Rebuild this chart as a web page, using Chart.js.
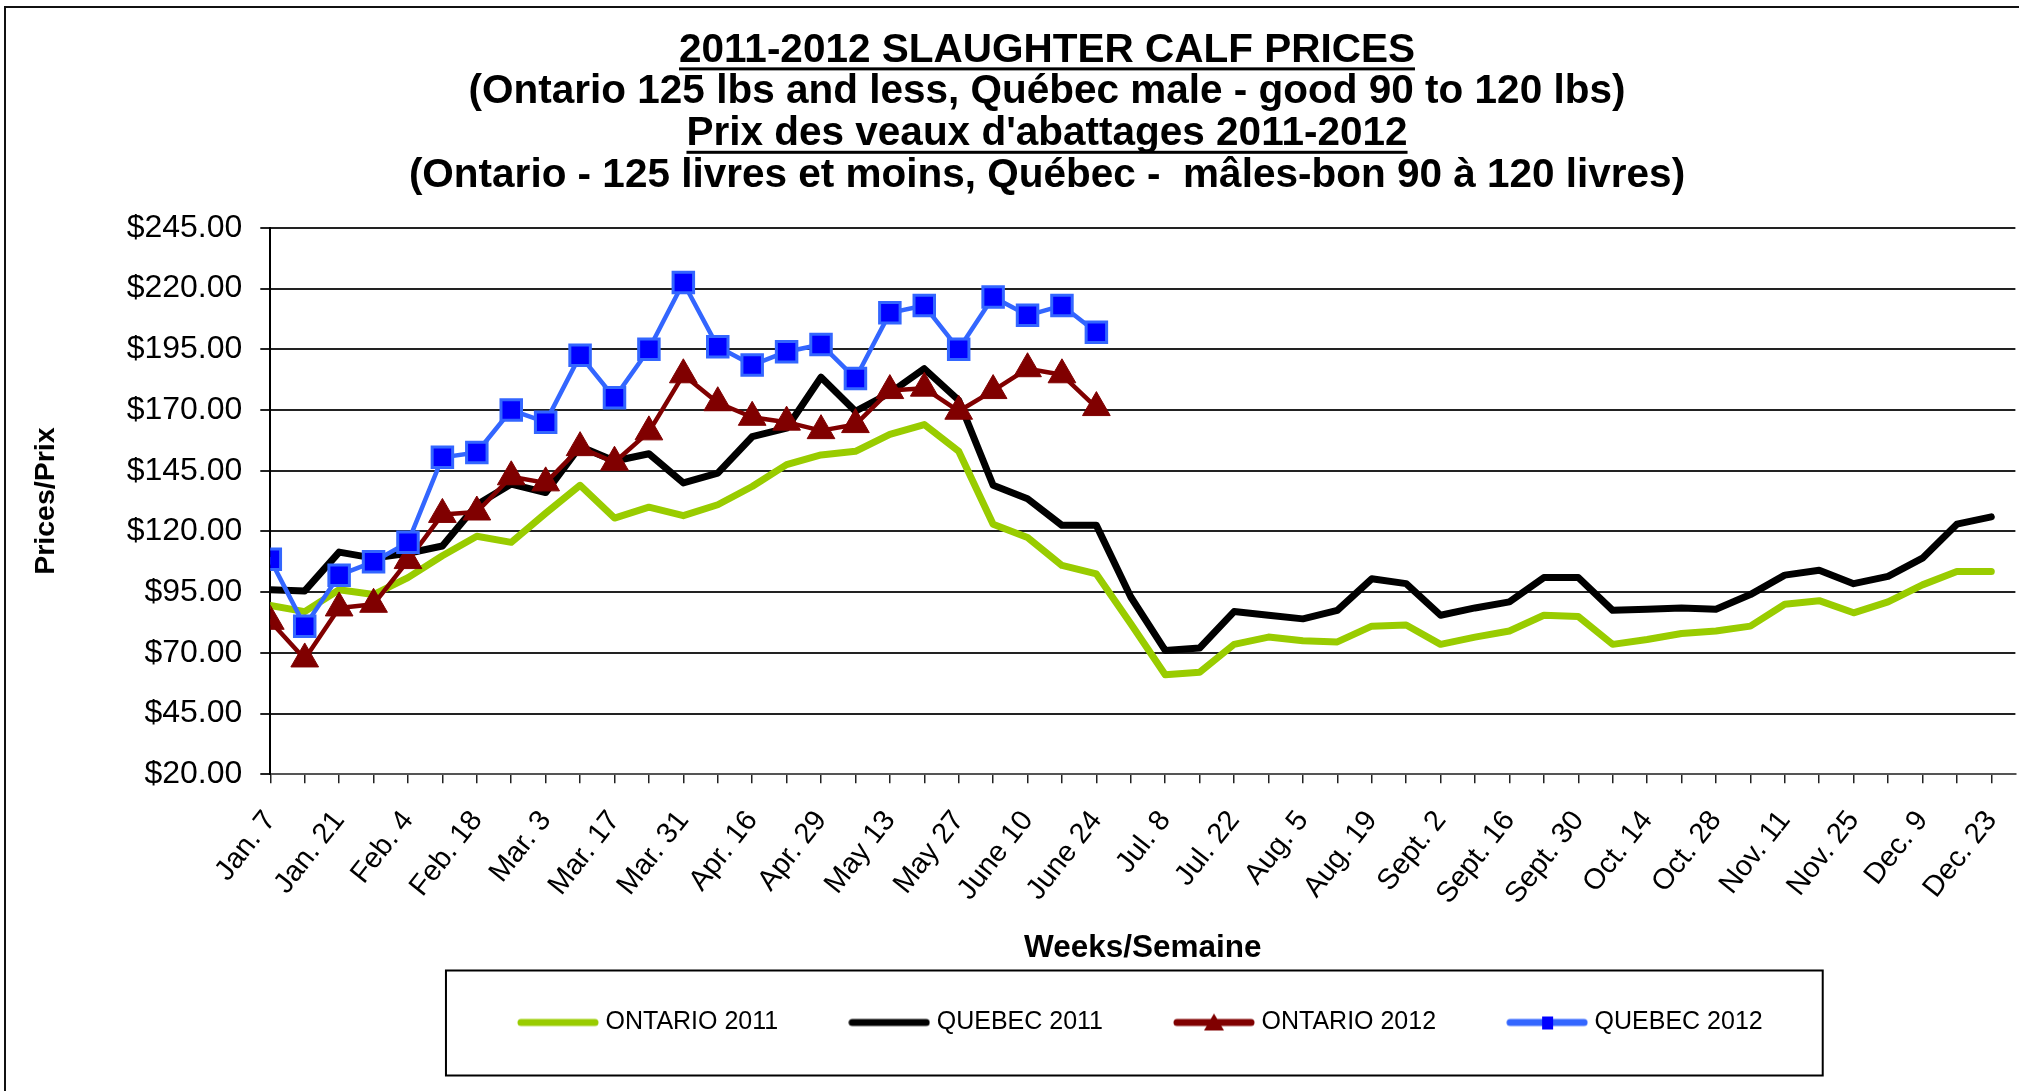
<!DOCTYPE html>
<html>
<head>
<meta charset="utf-8">
<script src="https://cdn.jsdelivr.net/npm/chart.js@4.4.1/dist/chart.umd.min.js"></script>
<style>
  html, body { margin: 0; padding: 0; overflow: hidden; background: #fff; }
  #frame {
    position: absolute; left: 4px; top: 6px; width: 2100px; height: 1200px;
    border-left: 2px solid #111; border-top: 2px solid #111;
  }
  canvas { display: block; }
</style>
</head>
<body>
<div id="frame"><canvas id="calfChart" width="2034" height="1083"></canvas></div>
<script>
// Week labels shown on the x axis (one every second week)
const weekLabels = ["Jan. 7", "Jan. 21", "Feb. 4", "Feb. 18", "Mar. 3", "Mar. 17", "Mar. 31",
    "Apr. 16", "Apr. 29", "May 13", "May 27", "June 10", "June 24", "Jul. 8", "Jul. 22",
    "Aug. 5", "Aug. 19", "Sept. 2", "Sept. 16", "Sept. 30", "Oct. 14", "Oct. 28",
    "Nov. 11", "Nov. 25", "Dec. 9", "Dec. 23"];

const titleLines = [
    "2011-2012 SLAUGHTER CALF PRICES",
    "(Ontario 125 lbs and less, Québec male - good 90 to 120 lbs)",
    "Prix des veaux d'abattages 2011-2012",
    "(Ontario - 125 livres et moins, Québec -  mâles-bon 90 à 120 livres)"
];
const underlinedLines = [0, 2];

const seriesNames = ["ONTARIO 2011", "QUEBEC 2011", "ONTARIO 2012", "QUEBEC 2012"];

// weekly prices ($)
const ontario2011 = [89.5, 87, 96, 94, 101, 110, 118, 115.5, 127.5, 139, 125.5, 130, 126.5, 131, 138.5,
    147.5, 151.5, 153, 160, 164, 153, 123, 117.5, 106, 102.5, 82, 61, 62, 73.5, 76.5, 75, 74.5,
    81, 81.5, 73.5, 76.5, 79, 85.5, 85, 73.5, 75.5, 78, 79, 81, 90, 91.5, 86.5, 91, 98, 103.5, 103.5];
const quebec2011 = [96, 95.5, 111.5, 109, 111, 114, 131, 139.5, 136, 155, 149, 152, 140, 144, 159,
    162.5, 183.5, 169.5, 177, 187, 174, 139, 133.5, 122.5, 122.5, 93, 71, 72, 87, 85.5, 84, 87.5,
    100.5, 98.5, 85.5, 88.5, 91, 101, 101, 87.5, 88, 88.5, 88, 94, 102, 104, 98.5, 101.5, 109, 123, 126];
const ontario2012 = [83, 67.5, 88.5, 90, 108, 127, 128, 142.5, 140, 154.5, 148.5, 161, 184.5, 173, 167,
    165, 161.5, 164, 178, 179, 169.5, 178, 187, 184.5, 171];
const quebec2012 = [108.5, 81, 102, 107.5, 115.5, 150.5, 152.5, 170, 165, 192.5, 175, 195, 222.5, 196, 188.5,
    194, 197, 183, 210, 213, 195, 216.5, 209, 213, 202];

const FONT = 'Arial, "Liberation Sans", sans-serif';
Chart.defaults.font.family = FONT;
Chart.defaults.color = '#000';

function points(values) {
    return values.map((v, i) => ({ x: i, y: v }));
}

// legend sample: a line with an optional marker in the middle
function legendIcon(color, lineW, marker, markerColor) {
    const c = document.createElement('canvas');
    c.width = 82; c.height = 26;
    const g = c.getContext('2d');
    g.strokeStyle = color; g.lineWidth = lineW; g.lineCap = 'round';
    g.beginPath(); g.moveTo(4, 13); g.lineTo(78, 13); g.stroke();
    g.fillStyle = markerColor;
    if (marker === 'triangle') {
        g.beginPath(); g.moveTo(41, 4); g.lineTo(51, 21); g.lineTo(31, 21); g.closePath(); g.fill();
    } else if (marker === 'rect') {
        g.fillRect(36, 7, 11, 13);
    }
    return c;
}

const legendIcons = [
    legendIcon('#99CC00', 7, null),
    legendIcon('#000000', 7, null),
    legendIcon('#800000', 7, 'triangle', '#800000'),
    legendIcon('#3366FF', 7, 'rect', '#0000FF')
];

const titleUnderline = {
    id: 'titleUnderline',
    afterDraw(chart) {
        const tb = chart.titleBlock;
        const o = tb.options;
        const font = Chart.helpers.toFont(o.font);
        const pad = Chart.helpers.toPadding(o.padding);
        const ctx = chart.ctx;
        const cx = (tb.left + tb.right) / 2;
        ctx.save();
        ctx.font = font.string;
        ctx.fillStyle = '#000';
        underlinedLines.forEach(i => {
            const w = ctx.measureText(o.text[i]).width;
            const y = tb.top + pad.top + font.lineHeight * (i + 0.5) + font.size * 0.42;
            ctx.fillRect(cx - w / 2, y, w, 3);
        });
        ctx.restore();
    }
};

const legendFrame = {
    id: 'legendFrame',
    afterDraw(chart) {
        const hb = chart.legend.legendHitBoxes;
        if (!hb || !hb.length) return;
        const first = hb[0], last = hb[hb.length - 1];
        const cy = first.top + first.height / 2;
        const ctx = chart.ctx;
        ctx.save();
        ctx.strokeStyle = '#000';
        ctx.lineWidth = 2;
        ctx.strokeRect(first.left - 77, cy - 52, (last.left + last.width) - first.left + 137, 105);
        ctx.restore();
    }
};

const ctx = document.getElementById('calfChart').getContext('2d');
new Chart(ctx, {
    type: 'line',
    data: {
        datasets: [
            {
                label: seriesNames[0], data: points(ontario2011),
                borderColor: '#99CC00', backgroundColor: '#99CC00', borderWidth: 7,
                pointRadius: 0, order: 4
            },
            {
                label: seriesNames[1], data: points(quebec2011),
                borderColor: '#000000', backgroundColor: '#000000', borderWidth: 7,
                pointRadius: 0, order: 3
            },
            {
                label: seriesNames[2], data: points(ontario2012),
                borderColor: '#800000', backgroundColor: '#800000', borderWidth: 4.5,
                pointStyle: 'triangle', pointRadius: 16, pointBackgroundColor: '#800000',
                pointBorderColor: '#800000', pointBorderWidth: 1, order: 2
            },
            {
                label: seriesNames[3], data: points(quebec2012),
                borderColor: '#3366FF', backgroundColor: '#0000FF', borderWidth: 4.5,
                pointStyle: 'rect', pointRadius: 14.5, pointBackgroundColor: '#0000FF',
                pointBorderColor: '#3366FF', pointBorderWidth: 3, order: 1
            }
        ]
    },
    options: {
        responsive: false,
        animation: false,
        elements: { line: { borderJoinStyle: 'round', borderCapStyle: 'round', tension: 0 } },
        layout: { padding: { left: 68.5, right: 20.5, top: 0, bottom: 46 } },
        scales: {
            x: {
                type: 'linear', min: 0, max: 50.7,
                afterFit(scale) { scale.height = 159.7; },
                ticks: {
                    stepSize: 1, autoSkip: false, includeBounds: false,
                    minRotation: 52, maxRotation: 52, padding: 21,
                    font: { size: 29 },
                    callback: (v) => (v % 2 === 0 ? weekLabels[v / 2] : '')
                },
                grid: { drawOnChartArea: false, tickLength: 9, color: '#222', lineWidth: 1.5 },
                border: { color: '#555', width: 2 },
                title: {
                    display: true, text: 'Weeks/Semaine',
                    font: { size: 31.5, weight: 'bold', lineHeight: 1.2 },
                    padding: { top: 0, bottom: -33 }
                }
            },
            y: {
                min: 20, max: 245,
                afterFit(scale) { scale.width = 195.8; },
                ticks: {
                    stepSize: 25, padding: 18,
                    font: { size: 32 },
                    callback: (v) => '$' + v.toFixed(2)
                },
                grid: { color: '#222', lineWidth: 2, tickLength: 10 },
                border: { color: '#000', width: 2 },
                title: {
                    display: true, text: 'Prices/Prix',
                    font: { size: 28.5, weight: 'bold', lineHeight: 1.2 },
                    padding: { top: -45, bottom: 0 }
                }
            }
        },
        plugins: {
            title: {
                display: true, text: titleLines,
                font: { size: 40.5, weight: 'bold', lineHeight: 1.03 },
                padding: { top: 21.5, bottom: 31.5 }
            },
            legend: {
                position: 'bottom', fullSize: false, align: 'center',
                labels: {
                    usePointStyle: true, pointStyleWidth: 70, padding: 76,
                    font: { size: 25 },
                    generateLabels: (chart) => chart.data.datasets.map((ds, i) => ({
                        text: ds.label,
                        pointStyle: legendIcons[i],
                        fillStyle: ds.borderColor,
                        strokeStyle: ds.borderColor,
                        lineWidth: 0,
                        hidden: false,
                        fontColor: '#000',
                        datasetIndex: i
                    }))
                }
            },
            tooltip: { enabled: false }
        }
    },
    plugins: [titleUnderline, legendFrame]
});
</script>
</body>
</html>
